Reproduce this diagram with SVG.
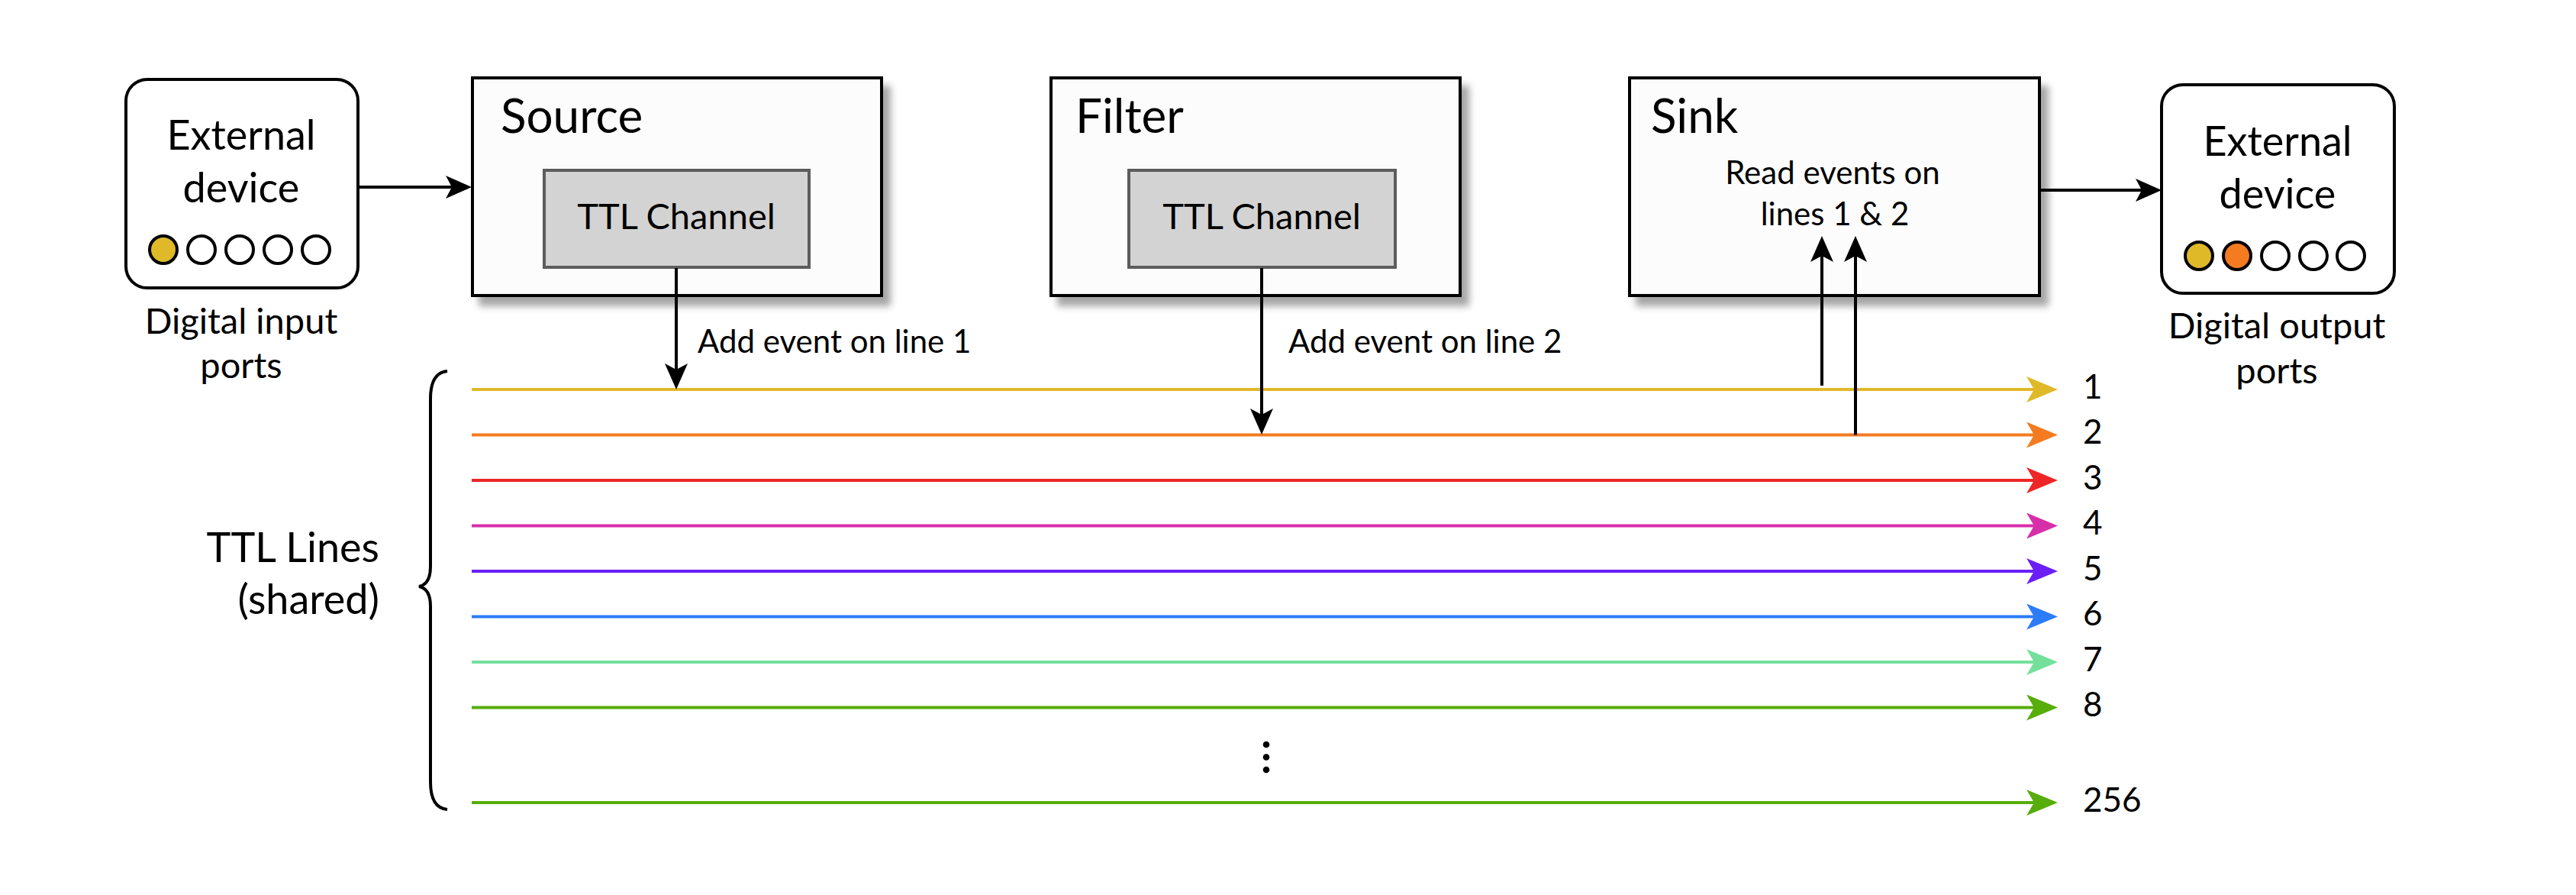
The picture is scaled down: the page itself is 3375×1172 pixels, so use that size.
<svg xmlns="http://www.w3.org/2000/svg" width="3375" height="1172" viewBox="0 0 3375 1172">
<style>
text{font-family:Lato,"Noto Sans","DejaVu Sans",sans-serif;fill:#000}
.title{font-size:62px}
.ext{font-size:54px;text-anchor:middle}
.ttl{font-size:47px;text-anchor:middle}
.lbl{font-size:42px}
.cap{font-size:47px;text-anchor:middle}
.num{font-size:44px}
.big{font-size:54px;text-anchor:end}
.box{fill:#fcfcfc;stroke:#000;stroke-width:4}
.inner{fill:#d3d3d3;stroke:#5c5c5c;stroke-width:4}
.dev{fill:#fff;stroke:#000;stroke-width:4}
.port{stroke:#000;stroke-width:4;fill:#fff}
.blk{stroke:#000;stroke-width:4;fill:none}
.ln{stroke-width:4;fill:none}
</style>
<defs>
<filter id="sh" x="-10%" y="-10%" width="130%" height="130%">
<feDropShadow dx="10" dy="12" stdDeviation="5" flood-color="#000" flood-opacity="0.35"/>
</filter>
<marker id="ab" markerUnits="userSpaceOnUse" markerWidth="34" markerHeight="30" refX="8" refY="15" orient="auto"><path d="M0,0 L34,15 L0,30 L8,15 z" fill="#000"/></marker>
<marker id="m1" markerUnits="userSpaceOnUse" markerWidth="41" markerHeight="34" refX="10" refY="17" orient="auto"><path d="M0,0 L41,17 L0,34 L10,17 z" fill="#e0b929"/></marker>
<marker id="m2" markerUnits="userSpaceOnUse" markerWidth="41" markerHeight="34" refX="10" refY="17" orient="auto"><path d="M0,0 L41,17 L0,34 L10,17 z" fill="#f47b20"/></marker>
<marker id="m3" markerUnits="userSpaceOnUse" markerWidth="41" markerHeight="34" refX="10" refY="17" orient="auto"><path d="M0,0 L41,17 L0,34 L10,17 z" fill="#ee2626"/></marker>
<marker id="m4" markerUnits="userSpaceOnUse" markerWidth="41" markerHeight="34" refX="10" refY="17" orient="auto"><path d="M0,0 L41,17 L0,34 L10,17 z" fill="#d72fa9"/></marker>
<marker id="m5" markerUnits="userSpaceOnUse" markerWidth="41" markerHeight="34" refX="10" refY="17" orient="auto"><path d="M0,0 L41,17 L0,34 L10,17 z" fill="#6b1ff5"/></marker>
<marker id="m6" markerUnits="userSpaceOnUse" markerWidth="41" markerHeight="34" refX="10" refY="17" orient="auto"><path d="M0,0 L41,17 L0,34 L10,17 z" fill="#2d7cf7"/></marker>
<marker id="m7" markerUnits="userSpaceOnUse" markerWidth="41" markerHeight="34" refX="10" refY="17" orient="auto"><path d="M0,0 L41,17 L0,34 L10,17 z" fill="#74e09c"/></marker>
<marker id="m8" markerUnits="userSpaceOnUse" markerWidth="41" markerHeight="34" refX="10" refY="17" orient="auto"><path d="M0,0 L41,17 L0,34 L10,17 z" fill="#56ad0b"/></marker>
</defs>
<rect width="3375" height="1172" fill="#fff"/>

<g id="input-device">
<rect class="dev" x="165" y="104" width="304" height="273" rx="28"/>
<text class="ext" x="316" y="196">External</text>
<text class="ext" x="316" y="265">device</text>
<circle class="port" cx="214" cy="327" r="18" style="fill:#e0b929"/>
<circle class="port" cx="264" cy="327" r="18"/>
<circle class="port" cx="314" cy="327" r="18"/>
<circle class="port" cx="364" cy="327" r="18"/>
<circle class="port" cx="414" cy="327" r="18"/>
<text class="cap" x="316" y="437">Digital input</text>
<text class="cap" x="316" y="495">ports</text>
</g>

<g id="source">
<rect class="box" x="619" y="102" width="536" height="285" filter="url(#sh)"/>
<text class="title" x="656" y="174">Source</text>
<rect class="inner" x="713" y="223" width="347" height="127"/>
<text class="ttl" x="886" y="300">TTL Channel</text>
</g>

<g id="filter">
<rect class="box" x="1377" y="102" width="536" height="285" filter="url(#sh)"/>
<text class="title" x="1409" y="174">Filter</text>
<rect class="inner" x="1479" y="223" width="349" height="127"/>
<text class="ttl" x="1653" y="300">TTL Channel</text>
</g>

<g id="sink">
<rect class="box" x="2135" y="102" width="537" height="285" filter="url(#sh)"/>
<text class="title" x="2163" y="174">Sink</text>
<text class="lbl" x="2401" y="241" text-anchor="middle">Read events on</text>
<text class="lbl" x="2404" y="295" text-anchor="middle">lines 1 &amp; 2</text>
</g>

<g id="output-device">
<rect class="dev" x="2832" y="111" width="305" height="273" rx="28"/>
<text class="ext" x="2984" y="204">External</text>
<text class="ext" x="2984" y="273">device</text>
<circle class="port" cx="2881" cy="335" r="18" style="fill:#e0b929"/>
<circle class="port" cx="2931" cy="335" r="18" style="fill:#f47b20"/>
<circle class="port" cx="2981" cy="335" r="18"/>
<circle class="port" cx="3031" cy="335" r="18"/>
<circle class="port" cx="3080" cy="335" r="18"/>
<text class="cap" x="2983" y="443">Digital output</text>
<text class="cap" x="2983" y="502">ports</text>
</g>

<g id="ttl-lines">
<path class="blk" d="M586,486 Q564,488 564,522 L564,742 Q564,765 549,768 Q564,771 564,794 L564,1024 Q564,1058 586,1060"/>
<text class="big" x="497" y="736">TTL Lines</text>
<text class="big" x="497" y="804">(shared)</text>
<text class="num" x="2729" y="522">1</text>
<text class="num" x="2729" y="581">2</text>
<text class="num" x="2729" y="641">3</text>
<text class="num" x="2729" y="700">4</text>
<text class="num" x="2729" y="760">5</text>
<text class="num" x="2729" y="819">6</text>
<text class="num" x="2729" y="879">7</text>
<text class="num" x="2729" y="938">8</text>
<text class="num" x="2729" y="1063">256</text>
<circle cx="1659" cy="975" r="4.3"/>
<circle cx="1659" cy="991.5" r="4.3"/>
<circle cx="1659" cy="1008" r="4.3"/>
</g>

<g id="connectors">
<path class="ln" stroke="#e0b929" d="M618,510 H2665" marker-end="url(#m1)"/>
<path class="ln" stroke="#f47b20" d="M618,569.5 H2665" marker-end="url(#m2)"/>
<path class="ln" stroke="#ee2626" d="M618,629 H2665" marker-end="url(#m3)"/>
<path class="ln" stroke="#d72fa9" d="M618,688.5 H2665" marker-end="url(#m4)"/>
<path class="ln" stroke="#6b1ff5" d="M618,748 H2665" marker-end="url(#m5)"/>
<path class="ln" stroke="#2d7cf7" d="M618,807.5 H2665" marker-end="url(#m6)"/>
<path class="ln" stroke="#74e09c" d="M618,867 H2665" marker-end="url(#m7)"/>
<path class="ln" stroke="#56ad0b" d="M618,926.5 H2665" marker-end="url(#m8)"/>
<path class="ln" stroke="#56ad0b" d="M618,1051 H2665" marker-end="url(#m8)"/>
<path class="blk" d="M469,245 H592" marker-end="url(#ab)"/>
<path class="blk" d="M2672,249 H2806" marker-end="url(#ab)"/>
<path class="blk" d="M886,351 V484" marker-end="url(#ab)"/>
<path class="blk" d="M1653,351 V543" marker-end="url(#ab)"/>
<path class="blk" d="M2387,505 V335" marker-end="url(#ab)"/>
<path class="blk" d="M2431,569.5 V335" marker-end="url(#ab)"/>
<text class="lbl" x="914" y="462">Add event on line 1</text>
<text class="lbl" x="1688" y="462">Add event on line 2</text>
</g>
</svg>
